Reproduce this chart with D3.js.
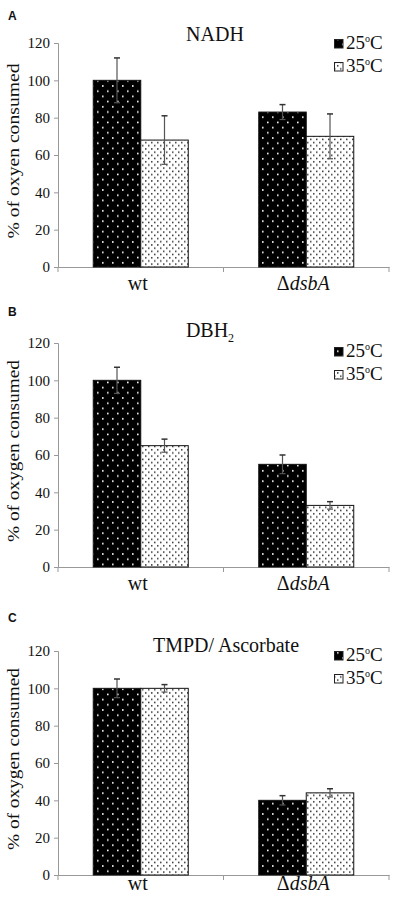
<!DOCTYPE html>
<html lang="en">
<head>
    <meta charset="UTF-8">
    <title>oxygen consumption</title>
    <style>
        body { margin: 0; background: #fff; }
    </style>
</head>
<body>
<script src="https://d3js.org/d3.v7.min.js"></script>
<script>
    // data
    const groups = ["wt", "dsbA"];
    const temps = ["25", "35"];
    const yTicks = [0, 20, 40, 60, 80, 100, 120];

    const nadh25 = [100, 83];
    const nadh35 = [68, 70];
    const nadh25Err = [12, 4];
    const nadh35Err = [13, 12];

    const dbh25 = [100, 55];
    const dbh35 = [65, 33];
    const dbh25Err = [7, 5];
    const dbh35Err = [3.5, 2];

    const tmpd25 = [100, 40];
    const tmpd35 = [100, 44];
    const tmpd25Err = [5, 2.5];
    const tmpd35Err = [2, 2.2];

    const SERIF = "'Liberation Serif', 'Times New Roman', serif";
    const SANS = "'Liberation Sans', Arial, sans-serif";

    const panels = [
        { letter: "A", title: "NADH", ylab: "% of oxyen consumed", top: 43, bottom: 267, titleY: 41, titleX: 215, legTop: 39, letterY: 20, catY: 290,
          vals: [nadh25, nadh35], errs: [nadh25Err, nadh35Err] },
        { letter: "B", title: "DBH", sub: "2", ylab: "% of oxygen consumed", top: 343, bottom: 567, titleY: 337, titleX: 210, legTop: 347, letterY: 316, catY: 590,
          vals: [dbh25, dbh35], errs: [dbh25Err, dbh35Err] },
        { letter: "C", title: "TMPD/ Ascorbate", ylab: "% of oxygen consumed", top: 651, bottom: 875, titleY: 652, titleX: 226, legTop: 651, letterY: 622, catY: 890,
          vals: [tmpd25, tmpd35], errs: [tmpd25Err, tmpd35Err] }
    ];

    const W = 395, H = 900;
    const left = 58, right = 389;

    const svg = d3.select("body").append("svg")
        .attr("width", W)
        .attr("height", H);

    // fill patterns
    const defs = svg.append("defs");
    const p25 = defs.append("pattern").attr("id", "p25")
        .attr("patternUnits", "userSpaceOnUse").attr("width", 10).attr("height", 10.4);
    p25.append("rect").attr("width", 10).attr("height", 10.4).attr("fill", "#000");
    p25.append("rect").attr("x", 2).attr("y", 2).attr("width", 1.6).attr("height", 1.6).attr("fill", "#fff");
    p25.append("rect").attr("x", 7).attr("y", 7.2).attr("width", 1.6).attr("height", 1.6).attr("fill", "#fff");

    const p35 = defs.append("pattern").attr("id", "p35")
        .attr("patternUnits", "userSpaceOnUse").attr("width", 6).attr("height", 6.4);
    p35.append("rect").attr("width", 6).attr("height", 6.4).attr("fill", "#fff");
    p35.append("rect").attr("x", 1).attr("y", 1).attr("width", 1.5).attr("height", 1.5).attr("fill", "#333");
    p35.append("rect").attr("x", 4).attr("y", 4.2).attr("width", 1.5).attr("height", 1.5).attr("fill", "#333");

    const fills = { "25": "url(#p25)", "35": "url(#p35)" };

    const x0 = d3.scaleBand().domain(groups).range([left, right]);
    const x1 = d3.scaleBand().domain(temps).range([0, x0.bandwidth()]).paddingOuter(0.742);

    panels.forEach(p => {
        const g = svg.append("g");
        const y = d3.scaleLinear().domain([0, 120]).range([p.bottom, p.top]);

        g.append("text")
            .attr("x", 8).attr("y", p.letterY)
            .style("font-family", SANS).style("font-weight", "bold").style("font-size", "12px")
            .attr("fill", "#111")
            .text(p.letter);

        // title
        const t = g.append("text")
            .attr("x", p.titleX).attr("y", p.titleY)
            .attr("text-anchor", "middle")
            .style("font-family", SERIF)
            .style("font-size", "20px")
            .attr("fill", "#111")
            .text(p.title);
        if (p.sub) {
            t.append("tspan").attr("dy", 5).style("font-size", "12px").text(p.sub);
        }

        // y axis
        const yAxis = g.append("g")
            .attr("transform", `translate(${left},0)`)
            .call(d3.axisLeft(y).tickValues(yTicks).tickSize(4).tickPadding(4));
        yAxis.selectAll("path, line").attr("stroke", "#999");
        yAxis.selectAll("text")
            .style("font-size", "15px")
            .style("font-family", SERIF)
            .attr("fill", "#111");

        // x axis
        const xAxis = g.append("g")
            .attr("transform", `translate(0,${p.bottom})`)
            .call(d3.axisBottom(x0).tickSize(0).tickFormat(""));
        xAxis.select("path").attr("stroke", "#999");
        xAxis.selectAll(".tick").remove();
        xAxis.selectAll(".sep").data([left, left + x0.bandwidth(), right]).join("line")
            .attr("class", "sep")
            .attr("x1", d => d).attr("x2", d => d)
            .attr("y1", 0).attr("y2", 5)
            .attr("stroke", "#999");

        // category labels
        groups.forEach(grp => {
            const lab = g.append("text")
                .attr("x", x0(grp) + x0.bandwidth() / 2 - 3)
                .attr("y", p.catY)
                .attr("text-anchor", "middle")
                .style("font-family", SERIF)
                .style("font-size", "20px")
                .attr("fill", "#111");
            if (grp === "wt") {
                lab.text("wt");
            } else {
                lab.append("tspan").text("\u0394");
                lab.append("tspan").style("font-style", "italic").text(grp);
            }
        });

        // y label
        g.append("text")
            .attr("transform", `translate(19,${(p.top + p.bottom) / 2 - 4}) rotate(-90)`)
            .attr("text-anchor", "middle")
            .attr("textLength", p.ylab.includes("oxygen") ? 182 : 175)
            .attr("lengthAdjust", "spacingAndGlyphs")
            .style("font-family", SERIF)
            .style("font-size", "16px")
            .attr("fill", "#111")
            .text(p.ylab);

        // bars
        const rows = [];
        groups.forEach((grp, i) => {
            temps.forEach((tmp, j) => {
                rows.push({ grp, tmp, v: p.vals[j][i], e: p.errs[j][i] });
            });
        });

        g.selectAll("rect.bar").data(rows).join("rect")
            .attr("class", "bar")
            .attr("x", d => x0(d.grp) + x1(d.tmp))
            .attr("y", d => y(d.v))
            .attr("width", x1.bandwidth())
            .attr("height", d => y(0) - y(d.v))
            .attr("fill", d => fills[d.tmp])
            .attr("stroke", "#111")
            .attr("stroke-width", 1);

        // error bars
        const eb = g.selectAll("g.err").data(rows).join("g").attr("class", "err")
            .attr("transform", d => `translate(${x0(d.grp) + x1(d.tmp) + x1.bandwidth() / 2},0)`);
        eb.append("line")
            .attr("y1", d => y(d.v - d.e)).attr("y2", d => y(d.v + d.e))
            .attr("stroke", "#555").attr("stroke-width", 1.2);
        eb.append("line")
            .attr("x1", -3).attr("x2", 3)
            .attr("y1", d => y(d.v + d.e)).attr("y2", d => y(d.v + d.e))
            .attr("stroke", "#333").attr("stroke-width", 1.5);
        eb.append("line")
            .attr("x1", -3).attr("x2", 3)
            .attr("y1", d => y(d.v - d.e)).attr("y2", d => y(d.v - d.e))
            .attr("stroke", "#555").attr("stroke-width", 1.2);

        // legend
        temps.forEach((tmp, j) => {
            const ly = p.legTop + j * 23;
            g.append("rect")
                .attr("x", 334.5).attr("y", ly + 0.5)
                .attr("width", 8.5).attr("height", 8.5)
                .attr("fill", fills[tmp])
                .attr("stroke", "#222").attr("stroke-width", 1);
            const lt = g.append("text")
                .attr("x", 346).attr("y", ly + 10)
                .style("font-family", SERIF)
                .style("font-size", "19px")
                .attr("fill", "#111")
                .text(tmp);
            lt.append("tspan").attr("dy", -7).style("font-size", "10px").text("o");
            lt.append("tspan").attr("dy", 7).text("C");
        });
    });
</script>
</body>
</html>
